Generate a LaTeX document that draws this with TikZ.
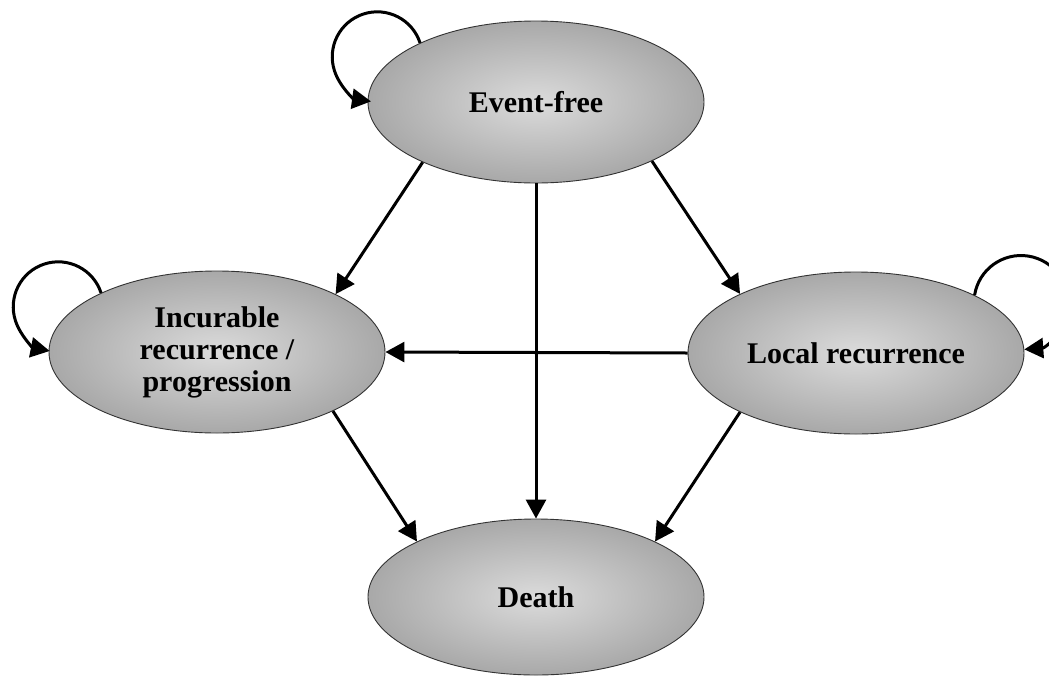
\documentclass[tikz,border=0pt]{standalone}
\usepackage{fontspec}
\setmainfont{Liberation Serif}
\usetikzlibrary{shapes.geometric,arrows.meta}
\begin{document}
\begin{tikzpicture}[x=1pt,y=-1pt,
  state/.style={ellipse, draw=black!80, line width=0.9pt, inner sep=0pt,
    minimum width=336pt, minimum height=162pt,
    inner color=black!14, outer color=black!34,
    font=\fontsize{30}{32}\selectfont\bfseries, align=center},
  conn/.style={line width=3pt, -{Triangle[length=19pt,width=20pt]}}]
\useasboundingbox (0,0) rectangle (1049,675);
\clip (0,0) rectangle (1049,675);
\node[state] (ef) at (536,102) {Event-free};
\node[state] (inc) at (217,352) {Incurable\\recurrence /\\progression};
\node[state] (loc) at (856,353) {Local recurrence};
\node[state, minimum height=156pt] (death) at (536,597) {Death};
\draw[conn] (ef.208) -- (inc.26);
\draw[conn] (ef.-27) -- (loc.153);
\draw[conn] (ef.south) -- (death.north);
\draw[conn] (loc.west) -- (inc.east);
\draw[conn] (inc.-27) -- (death.155);
\draw[conn] (loc.207) -- (death.25);
\draw[conn] (ef.153) arc[start angle=-18, end angle=-262, radius=45];
\draw[conn] (inc.153) arc[start angle=-18, end angle=-259, radius=45];
\draw[conn] (loc.26) arc[start angle=189, end angle=446, radius=47];
\end{tikzpicture}
\end{document}
